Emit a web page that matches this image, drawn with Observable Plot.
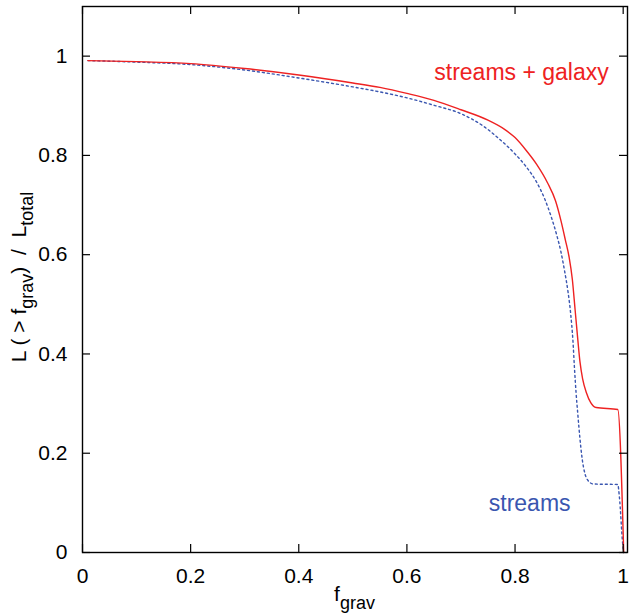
<!DOCTYPE html>
<html><head><meta charset="utf-8">
<script src="https://cdn.jsdelivr.net/npm/d3@7"></script>
<script src="https://cdn.jsdelivr.net/npm/@observablehq/plot@0.6"></script>
<style>body{margin:0;background:#fff} #chart{width:630px;height:614px}</style>
</head><body><div id="chart"></div>
<script>
// streams + galaxy (solid red)
const galaxyX = [0.01, 0.1, 0.2, 0.3, 0.4, 0.5, 0.55, 0.6, 0.65, 0.7, 0.75, 0.78, 0.8, 0.82, 0.84, 0.86, 0.875, 0.885, 0.893, 0.900, 0.906, 0.911, 0.916, 0.920, 0.925, 0.932, 0.940, 0.950, 0.990, 1.001];
const galaxyY = [0.991, 0.989, 0.985, 0.975, 0.962, 0.946, 0.937, 0.925, 0.911, 0.892, 0.871, 0.853, 0.836, 0.811, 0.782, 0.745, 0.708, 0.668, 0.630, 0.595, 0.550, 0.490, 0.430, 0.385, 0.350, 0.322, 0.302, 0.292, 0.288, 0.0];
// streams (dotted blue)
const streamsX = [0.01, 0.1, 0.2, 0.3, 0.4, 0.5, 0.55, 0.6, 0.65, 0.7, 0.74, 0.77, 0.8, 0.82, 0.84, 0.855, 0.867, 0.877, 0.885, 0.892, 0.898, 0.903, 0.907, 0.910, 0.913, 0.916, 0.920, 0.924, 0.929, 0.935, 0.945, 0.990, 0.993, 0.999, 1.001];
const streamsY = [0.991, 0.988, 0.983, 0.972, 0.956, 0.938, 0.928, 0.916, 0.901, 0.884, 0.860, 0.834, 0.803, 0.778, 0.746, 0.712, 0.676, 0.640, 0.605, 0.565, 0.525, 0.480, 0.428, 0.370, 0.320, 0.280, 0.230, 0.190, 0.160, 0.145, 0.138, 0.137, 0.112, 0.019, 0.0];

const xTicks = [0, 0.2, 0.4, 0.6, 0.8, 1];
const xTickLabels = ["0", "0.2", "0.4", "0.6", "0.8", "1"];
const yTicks = [0, 0.2, 0.4, 0.6, 0.8, 1];
const yTickLabels = ["0", "0.2", "0.4", "0.6", "0.8", "1"];

const labelText = ["streams + galaxy", "streams"];
const labelX = [0.812, 0.827];
const labelY = [0.967, 0.0975];
const labelColor = ["#ee2222", "#3a56b0"];

const galaxy = galaxyX.map((x, i) => ({x, y: galaxyY[i]}));
const streams = streamsX.map((x, i) => ({x, y: streamsY[i]}));
const labels = labelText.map((t, i) => ({t, x: labelX[i], y: labelY[i], c: labelColor[i]}));

const W = 630, H = 614, ML = 82, MR = 3, MT = 6, MB = 62;
const innerW = W - ML - MR, innerH = H - MT - MB;
const tickLen = 8;

const chart = Plot.plot({
  width: W, height: H,
  marginLeft: ML, marginRight: MR, marginTop: MT, marginBottom: MB,
  style: {fontFamily: "'Liberation Sans', Arial, sans-serif", fontSize: "21px", background: "#fff", color: "#000"},
  x: {domain: [0, 1.008]},
  y: {domain: [0, 1.1]},
  marks: [
    Plot.line(streams, {x: "x", y: "y", stroke: "#3a56b0", strokeWidth: 1.4, strokeDasharray: "2,3", curve: "monotone-x"}),
    Plot.line(galaxy, {x: "x", y: "y", stroke: "#ee2222", strokeWidth: 1.4, curve: "monotone-x"}),
    Plot.tickX(xTicks, {x: d => d, insetTop: innerH - tickLen, stroke: "#000", strokeWidth: 1.2}),
    Plot.tickX(xTicks, {x: d => d, insetBottom: innerH - tickLen, stroke: "#000", strokeWidth: 1.2}),
    Plot.tickY(yTicks, {y: d => d, insetRight: innerW - tickLen, stroke: "#000", strokeWidth: 1.2}),
    Plot.tickY(yTicks, {y: d => d, insetLeft: innerW - tickLen, stroke: "#000", strokeWidth: 1.2}),
    Plot.axisX({ticks: xTicks, tickFormat: d => xTickLabels[xTicks.indexOf(d)], tickSize: 0, tickPadding: 16, label: null, fontSize: 21}),
    Plot.axisY({ticks: yTicks, tickFormat: d => yTickLabels[yTicks.indexOf(d)], tickSize: 0, tickPadding: 15, label: null, fontSize: 21}),
    Plot.frame({stroke: "#000", strokeWidth: 1.4}),
    Plot.text(labels, {x: "x", y: "y", text: "t", fill: "c", fontSize: 23, textAnchor: "middle", lineAnchor: "middle"})
  ]
});

const svg = d3.select(chart);
const font = "'Liberation Sans', Arial, sans-serif";
const xt = svg.append("text")
  .attr("x", ML + innerW / 2).attr("y", 601)
  .attr("text-anchor", "middle").attr("font-family", font).attr("font-size", 21).attr("fill", "#000");
xt.append("tspan").text("f");
xt.append("tspan").attr("font-size", 18).attr("dy", 8).text("grav");

const yt = svg.append("text")
  .attr("transform", "translate(26,277) rotate(-90)")
  .attr("xml:space", "preserve")
  .style("white-space", "pre")
  .attr("text-anchor", "middle").attr("font-family", font).attr("font-size", 21).attr("fill", "#000");
yt.append("tspan").text("L ( > f");
yt.append("tspan").attr("font-size", 18).attr("dy", 7).text("grav");
yt.append("tspan").attr("dy", -7).text(")  /  L");
yt.append("tspan").attr("font-size", 18).attr("dy", 7).text("total");

document.getElementById("chart").appendChild(chart);
</script>
</body></html>
